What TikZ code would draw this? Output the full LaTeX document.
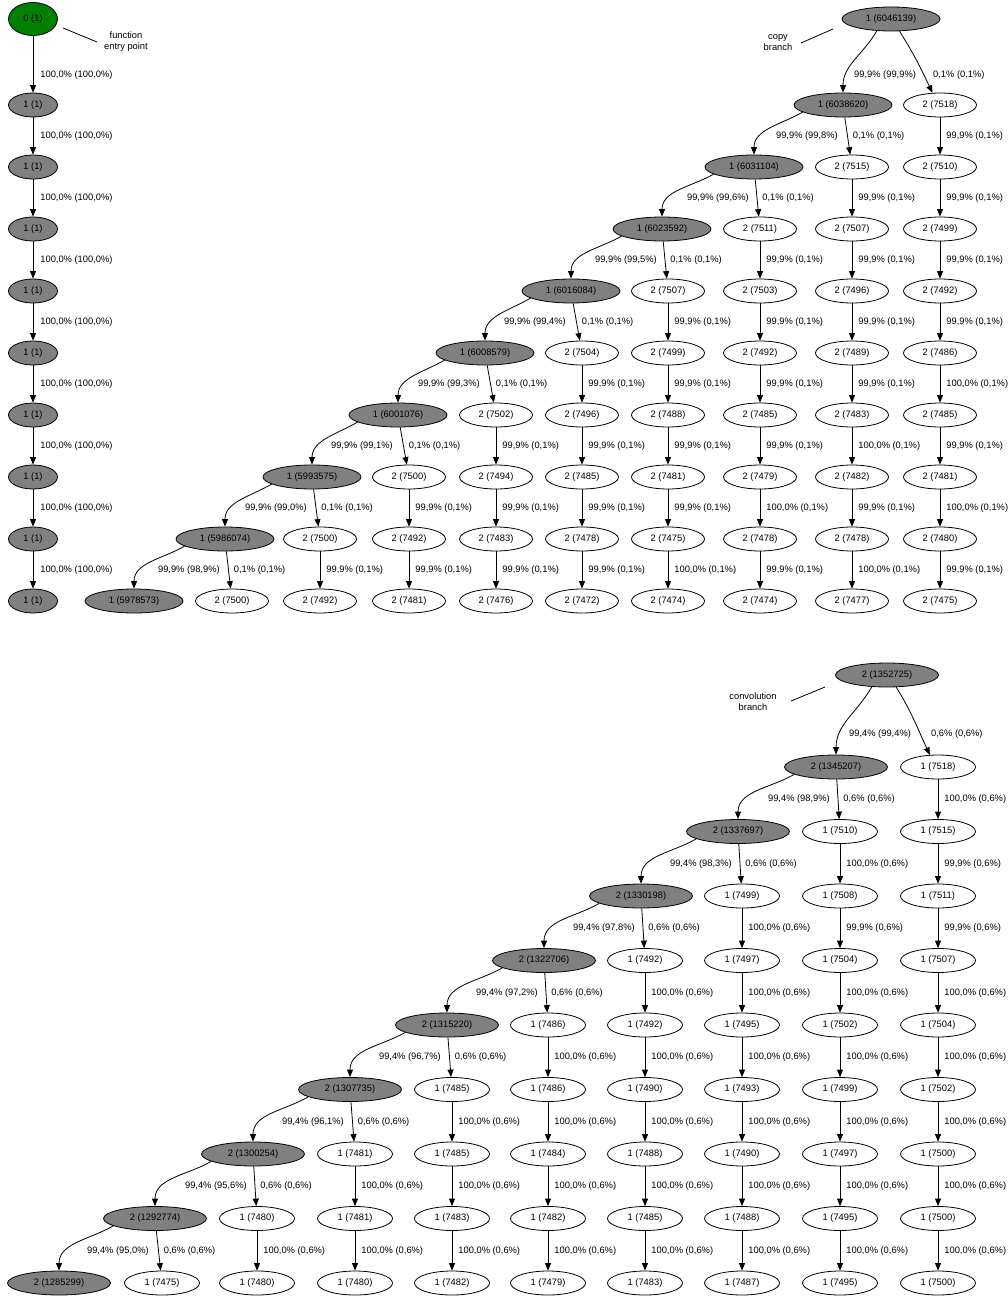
\documentclass[tikz,border=0pt]{standalone}
\usepackage{fontspec}
\setmainfont{Liberation Sans}
\usetikzlibrary{arrows.meta,shapes.geometric}
\definecolor{ggray}{RGB}{128,128,128}
\definecolor{ggreen}{RGB}{0,128,0}
\newcommand\plab[1]{\ifnum#1=9 99,9\%\else 100,0\%\fi}
% #1 name prefix, #2 style, #3 x, #4 y0, #5 dy, #6 text prefix, #7 pct text, #8 list row/value/code
\newcommand\wcol[8]{%
  \foreach \rr/\vv/\cc [count=\ii] in {#8}{%
    \node[#2] (#1\rr) at (#3,{-(#4+#5*\rr)}) {#6 (\vv)};
    \ifnum\ii>1
      \pgfmathtruncatemacro\pp{\rr-1}%
      \draw[conn] (#1\pp) -- (#1\rr) node[elab,midway,right=6pt] {\plab{\cc} (#7)};
    \fi
  }}
\begin{document}
\begin{tikzpicture}[x=1pt,y=1pt,
  every node/.style={font=\fontsize{9.33}{11}\selectfont},
  gn/.style={ellipse,draw,line width=0.8pt,inner sep=0pt,minimum height=24pt},
  spT/.style={gn,fill=ggray,minimum width=98pt},
  spB/.style={gn,fill=ggray,minimum width=103pt},
  wT/.style={gn,fill=white,minimum width=73pt},
  wB/.style={gn,fill=white,minimum width=75pt},
  lc/.style={gn,fill=ggray,minimum width=49pt},
  entrynode/.style={gn,fill=ggreen,minimum width=49pt,minimum height=33pt},
  conn/.style={draw,line width=0.8pt,-{Triangle[length=7.5pt,width=6pt]}},
  elab/.style={inner sep=0pt},
  annot/.style={align=center,inner sep=0pt},
  aline/.style={draw,line width=0.8pt}]
\useasboundingbox (0,0) rectangle (1008,-1297);

% ---------- left column ----------
\node[entrynode] (ln0) at (33,-19) {0 (1)};
\foreach \rr in {1,...,9} \node[lc] (ln\rr) at (33,{-(43+62*\rr)}) {1 (1)};
\draw[conn] (ln0) -- (ln1) node[elab,pos=0.69,right=7pt] {100,0\% (100,0\%)};
\foreach \rr [count=\pp from 1] in {2,...,9}
  \draw[conn] (ln\pp) -- (ln\rr) node[elab,midway,right=7pt] {100,0\% (100,0\%)};

\node[annot] (ann1) at (126,-41.5) {function\\entry point};
\coordinate (ann1a) at (63,-28);
\coordinate (ann1b) at (97,-42);
\draw[aline] (ann1a) -- (ann1b);

% ---------- copy branch ----------
\foreach \k/\x/\y/\vv in {0/891/19/6046139,1/843/105/6038620,2/754/167/6031104,3/662/229/6023592,4/571/291/6016084,5/485/353/6008579,6/398/415/6001076,7/312/477/5993575,8/225/539/5986074,9/134/601/5978573}
  \node[spT] (ts\k) at (\x,-\y) {1 (\vv)};

\wcol{twA}{wT}{940}{43}{62}{2}{0,1\%}{1/7518/0,2/7510/9,3/7499/9,4/7492/9,5/7486/9,6/7485/0,7/7481/9,8/7480/0,9/7475/9}
\wcol{twB}{wT}{852}{43}{62}{2}{0,1\%}{2/7515/0,3/7507/9,4/7496/9,5/7489/9,6/7483/9,7/7482/0,8/7478/9,9/7477/0}
\wcol{twC}{wT}{760}{43}{62}{2}{0,1\%}{3/7511/0,4/7503/9,5/7492/9,6/7485/9,7/7479/9,8/7478/0,9/7474/9}
\wcol{twD}{wT}{668}{43}{62}{2}{0,1\%}{4/7507/0,5/7499/9,6/7488/9,7/7481/9,8/7475/9,9/7474/0}
\wcol{twE}{wT}{582}{43}{62}{2}{0,1\%}{5/7504/0,6/7496/9,7/7485/9,8/7478/9,9/7472/9}
\wcol{twF}{wT}{496}{43}{62}{2}{0,1\%}{6/7502/0,7/7494/9,8/7483/9,9/7476/9}
\wcol{twG}{wT}{409}{43}{62}{2}{0,1\%}{7/7500/0,8/7492/9,9/7481/9}
\wcol{twH}{wT}{320}{43}{62}{2}{0,1\%}{8/7500/0,9/7492/9}
\wcol{twI}{wT}{232}{43}{62}{2}{0,1\%}{9/7500/0}

\draw[conn] (ts0.220) to[out=240,in=90] (ts1.north);
\draw[conn] (ts0.305) to[out=-58,in=115] (twA1.122);
\node[elab,anchor=west] at (854,-75) {99,9\% (99,9\%)};
\node[elab,anchor=west] at (933,-75) {0,1\% (0,1\%)};

\foreach \k/\nn/\x/\ym/\pa/\pb/\cl in {1/2/843/136/99/8/B,2/3/754/198/99/6/C,3/4/662/260/99/5/D,4/5/571/322/99/4/E,5/6/485/384/99/3/F,6/7/398/446/99/1/G,7/8/312/508/99/0/H,8/9/225/570/98/9/I}{
  \draw[conn] (ts\k.190) to[out=210,in=90] (ts\nn.north);
  \node[elab,anchor=east] at (\x-5,-\ym) {99,9\% (\pa,\pb\%)};
  \draw[conn] (ts\k) -- (tw\cl\nn) node[elab,midway,right=5pt] {0,1\% (0,1\%)};
}

\node[annot] (ann2) at (778,-43) {copy\\branch};
\coordinate (ann2a) at (801,-43);
\coordinate (ann2b) at (833,-29);
\draw[aline] (ann2a) -- (ann2b);

% ---------- convolution branch ----------
\foreach \k/\x/\y/\vv in {0/887/675/1352725,1/836/767/1345207,2/738/831.5/1337697,3/641/896/1330198,4/544/960.5/1322706,5/447/1025/1315220,6/350/1089.5/1307735,7/253/1154/1300254,8/155/1218.5/1292774,9/59/1283/1285299}
  \node[spB] (bs\k) at (\x,-\y) {2 (\vv)};

\wcol{bwA}{wB}{938}{702.5}{64.5}{1}{0,6\%}{1/7518/0,2/7515/0,3/7511/9,4/7507/9,5/7504/0,6/7502/0,7/7500/0,8/7500/0,9/7500/0}
\wcol{bwB}{wB}{840}{702.5}{64.5}{1}{0,6\%}{2/7510/0,3/7508/0,4/7504/9,5/7502/0,6/7499/0,7/7497/0,8/7495/0,9/7495/0}
\wcol{bwC}{wB}{742}{702.5}{64.5}{1}{0,6\%}{3/7499/0,4/7497/0,5/7495/0,6/7493/0,7/7490/0,8/7488/0,9/7487/0}
\wcol{bwD}{wB}{645}{702.5}{64.5}{1}{0,6\%}{4/7492/0,5/7492/0,6/7490/0,7/7488/0,8/7485/0,9/7483/0}
\wcol{bwE}{wB}{548}{702.5}{64.5}{1}{0,6\%}{5/7486/0,6/7486/0,7/7484/0,8/7482/0,9/7479/0}
\wcol{bwF}{wB}{452}{702.5}{64.5}{1}{0,6\%}{6/7485/0,7/7485/0,8/7483/0,9/7482/0}
\wcol{bwG}{wB}{355}{702.5}{64.5}{1}{0,6\%}{7/7481/0,8/7481/0,9/7480/0}
\wcol{bwH}{wB}{257}{702.5}{64.5}{1}{0,6\%}{8/7480/0,9/7480/0}
\wcol{bwI}{wB}{162}{702.5}{64.5}{1}{0,6\%}{9/7475/0}

\draw[conn] (bs0.218) to[out=240,in=90] (bs1.north);
\draw[conn] (bs0.307) to[out=-58,in=115] (bwA1.124);
\node[elab,anchor=west] at (849,-734) {99,4\% (99,4\%)};
\node[elab,anchor=west] at (931,-734) {0,6\% (0,6\%)};

\foreach \k/\nn/\x/\ym/\pa/\pb/\cl in {1/2/836/799.25/98/9/B,2/3/738/863.75/98/3/C,3/4/641/928.25/97/8/D,4/5/544/992.75/97/2/E,5/6/447/1057.25/96/7/F,6/7/350/1121.75/96/1/G,7/8/253/1186.25/95/6/H,8/9/155/1250.75/95/0/I}{
  \draw[conn] (bs\k.190) to[out=210,in=90] (bs\nn.north);
  \node[elab,anchor=east] at (\x-6,-\ym) {99,4\% (\pa,\pb\%)};
  \draw[conn] (bs\k) -- (bw\cl\nn) node[elab,midway,right=5pt] {0,6\% (0,6\%)};
}

\node[annot] (ann3) at (753,-701.5) {convolution\\branch};
\coordinate (ann3a) at (791,-701);
\coordinate (ann3b) at (825,-687);
\draw[aline] (ann3a) -- (ann3b);
\end{tikzpicture}
\end{document}
